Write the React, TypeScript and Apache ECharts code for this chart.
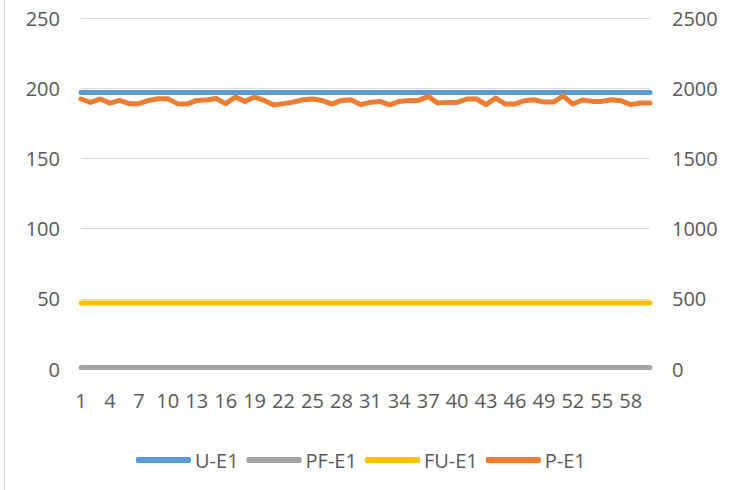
import React, { useEffect, useRef } from "react";
import * as echarts from "echarts";

const categories: string[] = Array.from({ length: 60 }, (_, i) => String(i + 1));

const uE1: number[] = Array(60).fill(197);
const pfE1: number[] = Array(60).fill(1);
const fuE1: number[] = Array(60).fill(47);
const pE1: number[] = [
  1923, 1899, 1923, 1894, 1913, 1890, 1890, 1913, 1925, 1925,
  1890, 1887, 1913, 1916, 1927, 1890, 1937, 1906, 1937, 1913,
  1880, 1890, 1901, 1918, 1923, 1913, 1887, 1913, 1918, 1883,
  1899, 1906, 1882, 1906, 1913, 1913, 1942, 1894, 1899, 1899,
  1923, 1923, 1883, 1930, 1887, 1887, 1911, 1918, 1901, 1901,
  1946, 1887, 1916, 1906, 1906, 1918, 1911, 1883, 1894, 1894,
];

const leftTicks = { min: 0, max: 250, interval: 50 };
const rightTicks = { min: 0, max: 2500, interval: 500 };

const FONT = "'Open Sans', 'Noto Sans', sans-serif";
const TXT = "#595959";
const FS = 20;

export default function App() {
  const ref = useRef<HTMLDivElement>(null);
  useEffect(() => {
    if (!ref.current) return;
    const chart = echarts.init(ref.current, undefined, { renderer: "svg" });
    const lineSeries = (name: string, data: number[], color: string, yAxisIndex: number) => ({
      name,
      type: "line",
      data,
      yAxisIndex,
      showSymbol: false,
      symbol: "none",
      color,
      lineStyle: { width: 5, color, cap: "round", join: "round" },
    });
    chart.setOption({
      animation: false,
      backgroundColor: "#ffffff",
      textStyle: { fontFamily: FONT },
      grid: { left: 81, right: 80, top: 18, bottom: 121, containLabel: false },
      legend: {
        top: 445,
        left: 131,
        itemWidth: 55,
        itemHeight: 6,
        itemGap: 8,
        icon: "roundRect",
        textStyle: { color: TXT, fontSize: FS, fontFamily: FONT, padding: [0, 0, 0, -1] },
        data: ["U-E1", "PF-E1", "FU-E1", "P-E1"],
      },
      xAxis: {
        type: "category",
        data: categories,
        boundaryGap: false,
        axisLine: { show: true, lineStyle: { color: "#d9d9d9", width: 1 } },
        axisTick: { show: false },
        axisLabel: { interval: 2, color: TXT, fontSize: FS, fontFamily: FONT, margin: 21 },
        splitLine: { show: false },
      },
      yAxis: [
        {
          type: "value",
          ...leftTicks,
          axisLine: { show: false },
          axisTick: { show: false },
          axisLabel: { color: TXT, fontSize: FS, fontFamily: FONT, margin: 21, formatter: (v: number) => String(v) },
          splitLine: { show: true, lineStyle: { color: "#d9d9d9", width: 1 } },
        },
        {
          type: "value",
          ...rightTicks,
          axisLine: { show: false },
          axisTick: { show: false },
          axisLabel: { color: TXT, fontSize: FS, fontFamily: FONT, margin: 22, formatter: (v: number) => String(v) },
          splitLine: { show: false },
        },
      ],
      graphic: [
        {
          type: "line",
          shape: { x1: 4.5, y1: 0, x2: 4.5, y2: 490 },
          style: { stroke: "#d9d9d9", lineWidth: 1 },
        },
      ],
      series: [
        lineSeries("U-E1", uE1, "#5b9bd5", 0),
        lineSeries("PF-E1", pfE1, "#a5a5a5", 0),
        lineSeries("FU-E1", fuE1, "#ffc000", 0),
        lineSeries("P-E1", pE1, "#ed7d31", 1),
      ],
    });
    return () => chart.dispose();
  }, []);
  return (
    <div
      ref={ref}
      style={{ position: "fixed", left: 0, top: 0, width: 730, height: 490 }}
    />
  );
}
